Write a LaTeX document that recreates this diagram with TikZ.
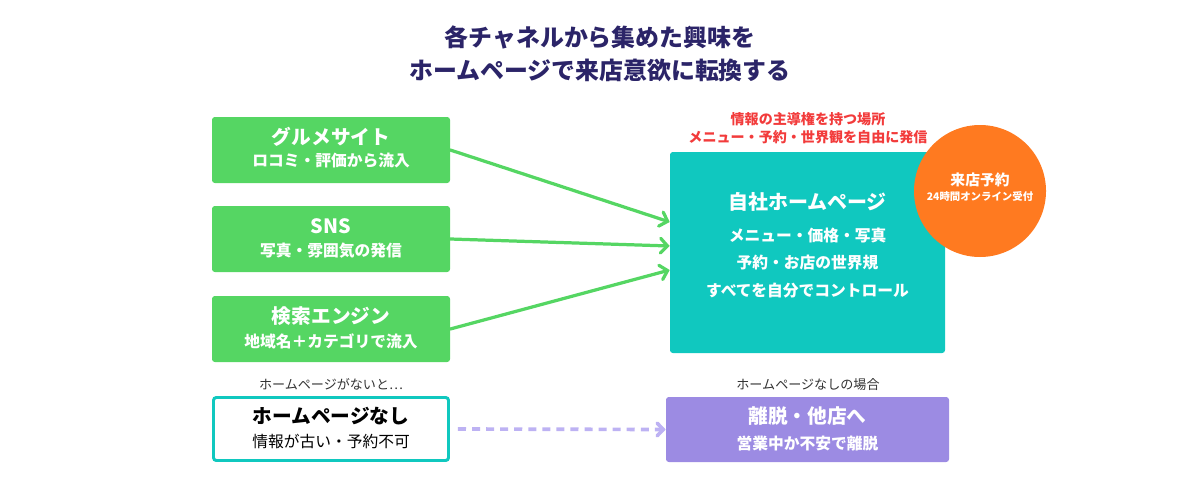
\documentclass[tikz,border=0pt]{standalone}
\usepackage{fontspec}
\setmainfont{Noto Sans CJK JP}
\usetikzlibrary{arrows.meta}
\definecolor{navy}{HTML}{2B2468}
\definecolor{chgreen}{HTML}{55D663}
\definecolor{hpteal}{HTML}{10C8BF}
\definecolor{bookorange}{HTML}{FF7A20}
\definecolor{leavepurple}{HTML}{9C8BE3}
\definecolor{dashlav}{HTML}{BDB2F3}
\definecolor{alertred}{HTML}{F23B3B}
\newlength{\pxu}\setlength{\pxu}{0.025cm}
\tikzset{
  channel/.style={fill=chgreen,rounded corners=2pt,minimum width=238\pxu,minimum height=66\pxu},
  boxhead/.style={font=\bfseries\fontsize{14}{16}\selectfont},
  boxsub/.style={font=\bfseries\fontsize{11.2}{13}\selectfont},
  caption/.style={text=black!80,font=\fontsize{9.3}{11}\selectfont},
  flow/.style={chgreen,line width=2.3pt,line cap=round,-{Straight Barb[length=5pt,width=10.5pt,line cap=round]}},
}
\begin{document}
\begin{tikzpicture}[x=0.025cm,y=-0.025cm]
\useasboundingbox (0,0) rectangle (1200,500);
% title
\node[navy,font=\bfseries\fontsize{17}{20}\selectfont] (title1) at (600,37) {各チャネルから集めた興味を};
\node[navy,font=\bfseries\fontsize{17}{20}\selectfont] (title2) at (600,70) {ホームページで来店意欲に転換する};
% the three channels
\node[channel] (gourmet) at (331,150) {};
\node[white,boxhead] at (331,137) {グルメサイト};
\node[white,boxsub] at (331,161) {ロコミ・評価から流入};
\node[channel] (sns) at (331,239) {};
\node[white,boxhead] at (331,226) {SNS};
\node[white,boxsub] at (331,251) {写真・雰囲気の発信};
\node[channel] (search) at (331,329) {};
\node[white,boxhead] at (331,316) {検索エンジン};
\node[white,boxsub] at (331,341) {地域名＋カテゴリで流入};
% own homepage
\node[fill=hpteal,rounded corners=2pt,minimum width=275\pxu,minimum height=201\pxu] (home) at (807.5,252.5) {};
\node[white,font=\bfseries\fontsize{14.2}{16}\selectfont] at (807.5,202) {自社ホームページ};
\node[white,boxsub] at (807.5,236) {メニュー・価格・写真};
\node[white,boxsub] at (807.5,263) {予約・お店の世界規};
\node[white,boxsub] at (807.5,291) {すべてを自分でコントロール};
\node[alertred,font=\bfseries\fontsize{10}{12}\selectfont,align=center] (ownership) at (808,128) {情報の主導権を持つ場所\\[1pt]メニュー・予約・世界観を自由に発信};
\node[circle,fill=bookorange,minimum size=132\pxu] (booking) at (980,191) {};
\node[white,font=\bfseries\fontsize{10.5}{12}\selectfont] at (980,180) {来店予約};
\node[white,font=\bfseries\fontsize{7.4}{9}\selectfont] at (980,197) {24時間オンライン受付};
\draw[flow] (gourmet.east) -- ([yshift=30.5\pxu]home.west);
\draw[flow] (sns.east) -- ([yshift=6.5\pxu]home.west);
\draw[flow] (search.east) -- ([yshift=-17.5\pxu]home.west);
% without a homepage
\node[caption] (nohpnote) at (331,384) {ホームページがないと…};
\node[draw=hpteal,line width=2.1pt,fill=white,rounded corners=2pt,minimum width=235\pxu,minimum height=63\pxu] (nohp) at (331,429) {};
\node[black,boxhead] at (331,416) {ホームページなし};
\node[black,font=\fontsize{11.2}{13}\selectfont] at (331,441) {情報が古い・予約不可};
\node[caption] (leavenote) at (808,385) {ホームページなしの場合};
\node[fill=leavepurple,rounded corners=2pt,minimum width=283\pxu,minimum height=65\pxu] (leave) at (807.5,429.5) {};
\node[white,boxhead] at (807.5,416) {離脱・他店へ};
\node[white,boxsub] at (807.5,443) {営業中か不安で離脱};
\draw[dashlav,line width=2.6pt,dash pattern=on 5.7pt off 4.3pt,-{Straight Barb[length=4.3pt,width=9pt,line cap=round]}] ([xshift=8\pxu]nohp.east) -- (leave.west);
\end{tikzpicture}
\end{document}
